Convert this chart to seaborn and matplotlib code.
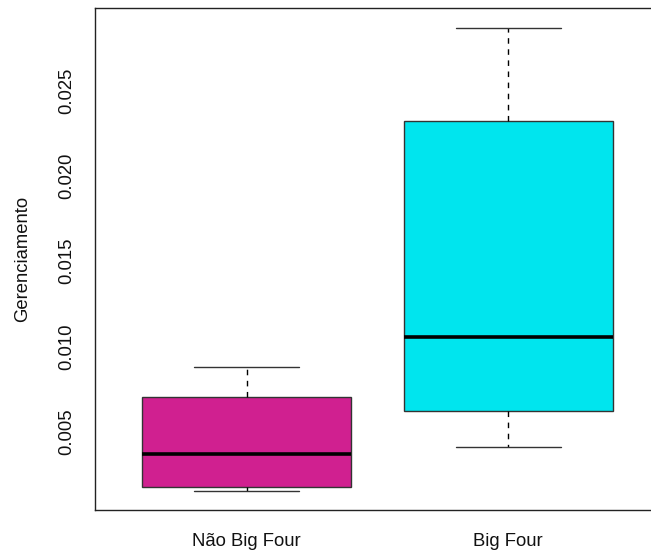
import matplotlib
matplotlib.use("Agg")
import matplotlib.pyplot as plt
import seaborn as sns
import pandas as pd

# Five-number summaries per audit group (min, Q1, median, Q3, max)
groups = ["Não Big Four", "Big Four"]
nao_big_four = [0.00156, 0.00180, 0.00369, 0.00707, 0.00883]
big_four = [0.00410, 0.00625, 0.01055, 0.02322, 0.02865]
colors = ["#D02090", "#00E5EE"]
y_ticks = [0.005, 0.010, 0.015, 0.020, 0.025]

df = pd.DataFrame({
    "grupo": [groups[0]] * len(nao_big_four) + [groups[1]] * len(big_four),
    "Gerenciamento": nao_big_four + big_four,
})

sns.set_style("white")
plt.rcParams["font.family"] = ["Liberation Sans", "DejaVu Sans"]

fig = plt.figure(figsize=(6.51, 5.59), dpi=100)
ax = fig.add_axes([95 / 651, 1 - 510 / 559, 565 / 651, 502 / 559])

sns.boxplot(
    data=df, x="grupo", y="Gerenciamento", hue="grupo", order=groups,
    hue_order=groups, palette=colors, saturation=1, width=0.8, whis=1.5,
    legend=False, ax=ax, linecolor="#222222", linewidth=1.0,
    whiskerprops=dict(linestyle=(0, (4, 4)), color="black", linewidth=1.0),
    capprops=dict(color="#333333", linewidth=1.0),
    medianprops=dict(color="black", linewidth=2.6),
    boxprops=dict(edgecolor="#333333", linewidth=1.0),
    showfliers=False,
)

ax.set_xlim(-0.58, 1.58)
ax.set_ylim(0.00043, 0.02983)
ax.set_yticks(y_ticks)
ax.set_yticklabels([f"{t:.3f}" for t in y_ticks])
plt.setp(ax.get_yticklabels(), rotation=90, va="center")

for side in ["left", "bottom", "top", "right"]:
    ax.spines[side].set_visible(True)
    ax.spines[side].set_color("#222222")
    ax.spines[side].set_linewidth(1.0)

ax.tick_params(axis="both", direction="out", length=8.5, width=0.8,
               color="#222222", labelsize=13.3, labelcolor="#111111")
ax.tick_params(axis="x", pad=8)
ax.tick_params(axis="y", pad=6)

ax.set_xlabel("")
ax.set_ylabel("Gerenciamento", fontsize=13.3, color="#111111")
ax.yaxis.label.set_va("center")
ax.yaxis.set_label_coords(-72 / 565, 0.5)

fig.savefig("out.png", dpi=100)
